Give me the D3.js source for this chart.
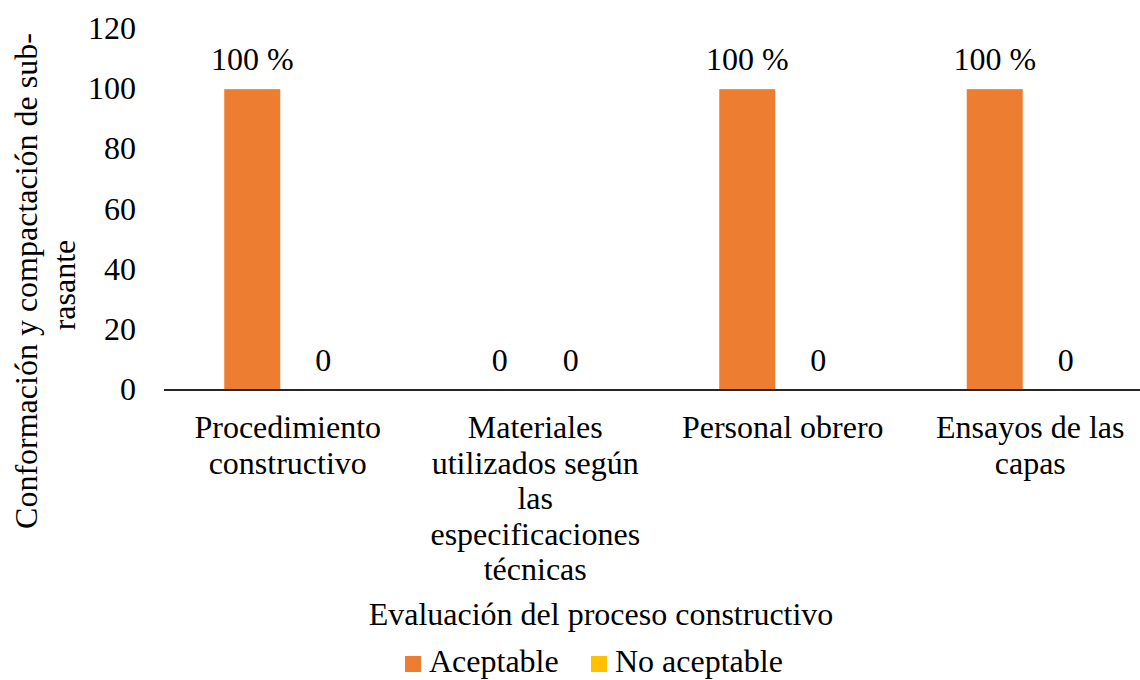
<!DOCTYPE html>
<html>
  <head>
    <meta charset="utf-8">
    <title></title>
  </head>
  <body style="margin:0">
    <div id="chart"></div>
    <script src="https://d3js.org/d3.v7.min.js"></script>
    <script>
      const width = 1140;
      const height = 680;

      // data
      const categories = [
        ['Procedimiento', 'constructivo'],
        ['Materiales', 'utilizados según', 'las', 'especificaciones', 'técnicas'],
        ['Personal obrero'],
        ['Ensayos de las', 'capas']
      ];
      const seriesNames = ['Aceptable', 'No aceptable'];
      const aceptable = [100, 0, 100, 100];
      const noAceptable = [0, 0, 0, 0];
      const labelsAceptable = ['100 %', '0', '100 %', '100 %'];
      const labelsNoAceptable = ['0', '0', '0', '0'];
      const yTicks = [0, 20, 40, 60, 80, 100, 120];

      const colors = ['#ED7D31', '#FFC000'];
      const font = "'Liberation Serif', 'Times New Roman', Times, serif";
      const fs = '32px';

      const plotLeft = 164, plotTop = 29, plotBottom = 390;
      const plotRight = 1154;

      const svg = d3.select('#chart')
                    .append('svg')
                    .attr('width', width)
                    .attr('height', height)
                    .style('font-family', font)
                    .style('font-size', fs)

      const x = d3.scaleBand().domain(d3.range(categories.length)).range([plotLeft, plotRight]);
      const y = d3.scaleLinear().domain([0, 120]).range([plotBottom, plotTop]);

      const barW = 56, step = 71;
      const offsets = [-step / 2, step / 2];

      // y tick labels (no axis line in the picture)
      svg.append('g').selectAll('text')
        .data(yTicks)
        .enter().append('text')
        .attr('x', 136)
        .attr('y', d => y(d) + 10)
        .attr('text-anchor', 'end')
        .text(d => d)

      const series = [
        { name: seriesNames[0], values: aceptable, labels: labelsAceptable },
        { name: seriesNames[1], values: noAceptable, labels: labelsNoAceptable }
      ];

      series.forEach((s, si) => {
        const g = svg.append('g');
        const cx = i => x(i) + x.bandwidth() / 2 + offsets[si];
        g.selectAll('rect')
          .data(s.values)
          .enter().append('rect')
          .attr('x', (d, i) => cx(i) - barW / 2)
          .attr('y', d => y(d))
          .attr('width', barW)
          .attr('height', d => y(0) - y(d))
          .attr('fill', colors[si])
        g.selectAll('text')
          .data(s.values)
          .enter().append('text')
          .attr('x', (d, i) => cx(i))
          .attr('y', d => y(d) - 19)
          .attr('text-anchor', 'middle')
          .text((d, i) => s.labels[i])
      });

      // x axis line
      svg.append('line')
        .attr('x1', plotLeft).attr('x2', width)
        .attr('y1', y(0)).attr('y2', y(0))
        .attr('stroke', '#262626')
        .attr('stroke-width', 2)

      // category labels
      const cat = svg.append('g').selectAll('text')
        .data(categories)
        .enter().append('text')
        .attr('text-anchor', 'middle')
      cat.selectAll('tspan')
        .data((d, i) => d.map(line => ({ line, i })))
        .enter().append('tspan')
        .attr('x', d => x(d.i) + x.bandwidth() / 2)
        .attr('y', (d, j) => 438 + j * 35.5)
        .text(d => d.line)

      // axis titles
      svg.append('text')
        .attr('x', 601).attr('y', 625)
        .attr('text-anchor', 'middle')
        .text('Evaluación del proceso constructivo')

      svg.append('text')
        .attr('transform', 'translate(37,281) rotate(-90)')
        .attr('text-anchor', 'middle')
        .text('Conformación y compactación de sub-')
      svg.append('text')
        .attr('transform', 'translate(75,285) rotate(-90)')
        .attr('text-anchor', 'middle')
        .text('rasante')

      // legend
      const legendX = [405, 591];
      const legend = svg.append('g').selectAll('g')
        .data(seriesNames)
        .enter().append('g')
        .attr('transform', (d, i) => `translate(${legendX[i]},656)`)
      legend.append('rect')
        .attr('width', 16).attr('height', 16)
        .attr('fill', (d, i) => colors[i])
      legend.append('text')
        .attr('x', 24).attr('y', 16)
        .text(d => d)
    </script>
  </body>
</html>
